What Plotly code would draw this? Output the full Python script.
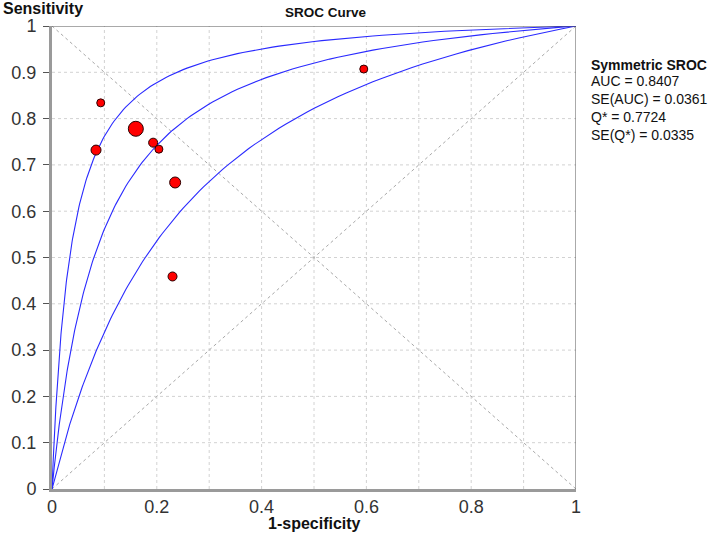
import numpy as np
import plotly.graph_objects as go

# Study points (1-specificity, sensitivity) and marker sizes (study weight)
fpr = [0.093, 0.160, 0.084, 0.193, 0.204, 0.235, 0.230, 0.595]
tpr = [0.834, 0.778, 0.732, 0.748, 0.734, 0.662, 0.459, 0.907]
msize = [8, 15, 10, 9, 8, 11, 9, 8]

# Symmetric SROC parameter a (logit TPR = a + logit FPR): upper CI, estimate, lower CI
sroc_a = [3.36, 2.444, 1.53]

stats_title = "Symmetric SROC"
stats_lines = ["AUC = 0.8407", "SE(AUC) = 0.0361", "Q* = 0.7724", "SE(Q*) = 0.0335"]

x_ticks = [0, 0.2, 0.4, 0.6, 0.8, 1]
x_ticklabels = ["0", "0.2", "0.4", "0.6", "0.8", "1"]
y_ticks = [0, 0.1, 0.2, 0.3, 0.4, 0.5, 0.6, 0.7, 0.8, 0.9, 1]
y_ticklabels = ["0", "0.1", "0.2", "0.3", "0.4", "0.5", "0.6", "0.7", "0.8", "0.9", "1"]

fig = go.Figure()

# diagonals
fig.add_trace(go.Scatter(x=[0, 1], y=[0, 1], mode="lines",
                         line=dict(color="#a8a8a8", width=1, dash="3px,3px"), hoverinfo="skip"))
fig.add_trace(go.Scatter(x=[0, 1], y=[1, 0], mode="lines",
                         line=dict(color="#a8a8a8", width=1, dash="3px,3px"), hoverinfo="skip"))

# SROC curves
xs = np.concatenate([[0.0], np.logspace(-5, 0, 400)])
for a in sroc_a:
    safe = np.where(xs > 0, xs, 1.0)
    ys = np.where(xs > 0, 1.0 / (1.0 + np.exp(-a) * (1 - xs) / safe), 0.0)
    fig.add_trace(go.Scatter(x=xs, y=ys, mode="lines",
                             line=dict(color="#2a2aff", width=1.1), hoverinfo="skip"))

# study points
fig.add_trace(go.Scatter(x=fpr, y=tpr, mode="markers", opacity=1,
                         marker=dict(size=msize, color="#ff0000", opacity=1,
                                     line=dict(color="#2a0000", width=1))))

ff = "Liberation Sans, Arial, sans-serif"
tickfont = dict(family=ff, size=18, color="#333333")
fig.update_xaxes(range=[0, 1], tickvals=x_ticks, ticktext=x_ticklabels, tickfont=tickfont,
                 showgrid=False, zeroline=False,
                 showline=True, linecolor="#9a9a9a", linewidth=3, ticks="", ticklabelstandoff=-1)
fig.update_yaxes(range=[0, 1], tickvals=y_ticks, ticktext=y_ticklabels, tickfont=tickfont,
                 showgrid=False, zeroline=False,
                 showline=True, linecolor="#9a9a9a", linewidth=3, ticks="outside",
                 ticklen=6, tickcolor="#555555", ticklabelstandoff=3)

shapes = []
# grid lines every 0.1 (dashed)
for i in range(1, 10):
    v = i / 10
    shapes.append(dict(type="line", xref="x", yref="y", x0=v, x1=v, y0=0, y1=1,
                       line=dict(color="#d2d2d2", width=1, dash="3px,3px"), layer="below"))
    shapes.append(dict(type="line", xref="x", yref="y", x0=0, x1=1, y0=v, y1=v,
                       line=dict(color="#d2d2d2", width=1, dash="3px,3px"), layer="below"))
# top and right border
shapes.append(dict(type="line", xref="x", yref="y", x0=0, x1=1, y0=1, y1=1,
                   line=dict(color="#555555", width=1)))
shapes.append(dict(type="line", xref="x", yref="y", x0=1, x1=1, y0=0, y1=1,
                   line=dict(color="#555555", width=1)))

annotations = [
    dict(text="<b>Sensitivity</b>", xref="paper", yref="paper", x=-0.097, y=1.037,
         xanchor="left", yanchor="middle", showarrow=False, font=dict(family=ff, size=16, color="#111")),
    dict(text="<b>SROC Curve</b>", xref="paper", yref="paper", x=0.523, y=1.030,
         xanchor="center", yanchor="middle", showarrow=False, font=dict(family=ff, size=13.5, color="#111")),
    dict(text="<b>1-specificity</b>", xref="paper", yref="paper", x=0.50, y=-0.075,
         xanchor="center", yanchor="middle", showarrow=False, font=dict(family=ff, size=16, color="#111")),
    dict(text="<b>" + stats_title + "</b>", xref="paper", yref="paper", x=1.0248, y=0.9158,
         xanchor="left", yanchor="middle", showarrow=False, font=dict(family=ff, size=14, color="#111")),
]
line_y = [0.881, 0.8425, 0.804, 0.7655]
for t, yy in zip(stats_lines, line_y):
    annotations.append(dict(text=t, xref="paper", yref="paper", x=1.0248, y=yy,
                            xanchor="left", yanchor="middle", showarrow=False,
                            font=dict(family=ff, size=14, color="#111")))

fig.update_layout(width=709, height=553, margin=dict(l=52, r=133, t=26, b=64),
                  paper_bgcolor="white", plot_bgcolor="white", showlegend=False,
                  shapes=shapes, annotations=annotations)

fig.write_html("out.html", config={"displayModeBar": False},
               post_script="document.body.style.margin='0';document.body.style.padding='0';")
